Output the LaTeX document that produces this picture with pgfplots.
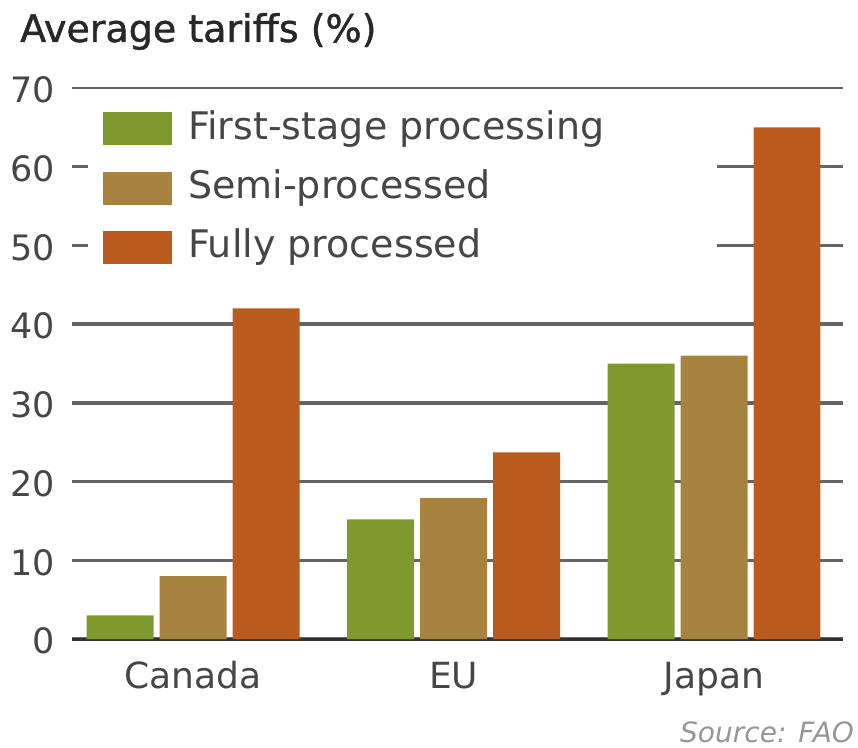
\documentclass[border=0pt]{standalone}
\usepackage{pgfplots}
\pgfplotsset{compat=1.18}
\usepackage{fontspec}
\setmainfont{DejaVu Sans}
\definecolor{cgreen}{RGB}{126,154,46}
\definecolor{ctan}{RGB}{168,131,63}
\definecolor{corange}{RGB}{186,90,30}
\definecolor{cgrid}{RGB}{100,100,100}
\definecolor{cbase}{RGB}{50,50,50}
\definecolor{ctext}{RGB}{70,70,70}
\definecolor{ctitle}{RGB}{40,40,40}
\definecolor{csrc}{RGB}{150,150,150}
\begin{document}
\begin{tikzpicture}
\useasboundingbox (-72pt,-108pt) rectangle (786pt,639pt);
\node[anchor=base west, inner sep=0pt, font=\fontsize{38}{45}\selectfont\addfontfeatures{FakeBold=1.2}, text=ctitle] at (-52pt,597pt) {Average tariffs (\%)};
\node[anchor=base west, inner sep=0pt, font=\fontsize{28}{34}\selectfont\itshape, text=csrc] at (608pt,-103pt) {Source: FAO};
\begin{axis}[
  at={(0pt,0pt)}, anchor=south west,
  scale only axis, width=771pt, height=551pt,
  xmin=-0.465, xmax=2.495, ymin=0, ymax=70,
  axis x line*=bottom, axis y line*=left,
  x axis line style={-, line width=3pt, color=cbase},
  y axis line style={draw=none},
  xtick={0,1,2}, xticklabels={Canada,EU,Japan},
  ytick={0,10,...,60}, extra y ticks={70},
  ymajorgrids, grid style={line width=3.5pt, color=cgrid},
  extra y tick style={grid style={line width=2pt, color=cgrid}},
  major tick length=0pt, tick style={draw=none},
  /pgf/number format/assume math mode=true,
  yticklabel style={anchor=east, inner sep=0pt, xshift=-17pt, yshift=-2pt, font=\fontsize{35}{42}\selectfont, text=ctext},
  xticklabel style={anchor=base, inner sep=0pt, yshift=-49pt, font=\fontsize{36}{43}\selectfont, text=ctext},
  ybar, bar width=0.257,
  legend cell align=left,
  legend style={at={(0.0402,0.960)}, anchor=north west, draw=none, fill=none,
    inner sep=0pt, row sep=24pt, column sep=16pt, nodes={inner sep=0pt},
    font=\fontsize{38}{46}\selectfont, text=ctext},
]
\fill[white] (axis cs:-0.4035,42.2) rectangle (axis cs:2.011,68.5);
\addplot[fill=cgreen, draw=none, bar shift=-0.280,
  legend image code/.code={\fill[cgreen] (0pt,-20pt) rectangle (69pt,13pt);}]
  coordinates {(0,3) (1,15.2) (2,35)};
\addlegendentry{First-stage processing}
\addplot[fill=ctan, draw=none, bar shift=0,
  legend image code/.code={\fill[ctan] (0pt,-20pt) rectangle (69pt,13pt);}]
  coordinates {(0,8) (1,17.9) (2,36)};
\addlegendentry{Semi-processed}
\addplot[fill=corange, draw=none, bar shift=0.280,
  legend image code/.code={\fill[corange] (0pt,-20pt) rectangle (69pt,13pt);}]
  coordinates {(0,42) (1,23.7) (2,65)};
\addlegendentry{Fully processed}
\end{axis}
\end{tikzpicture}
\end{document}
